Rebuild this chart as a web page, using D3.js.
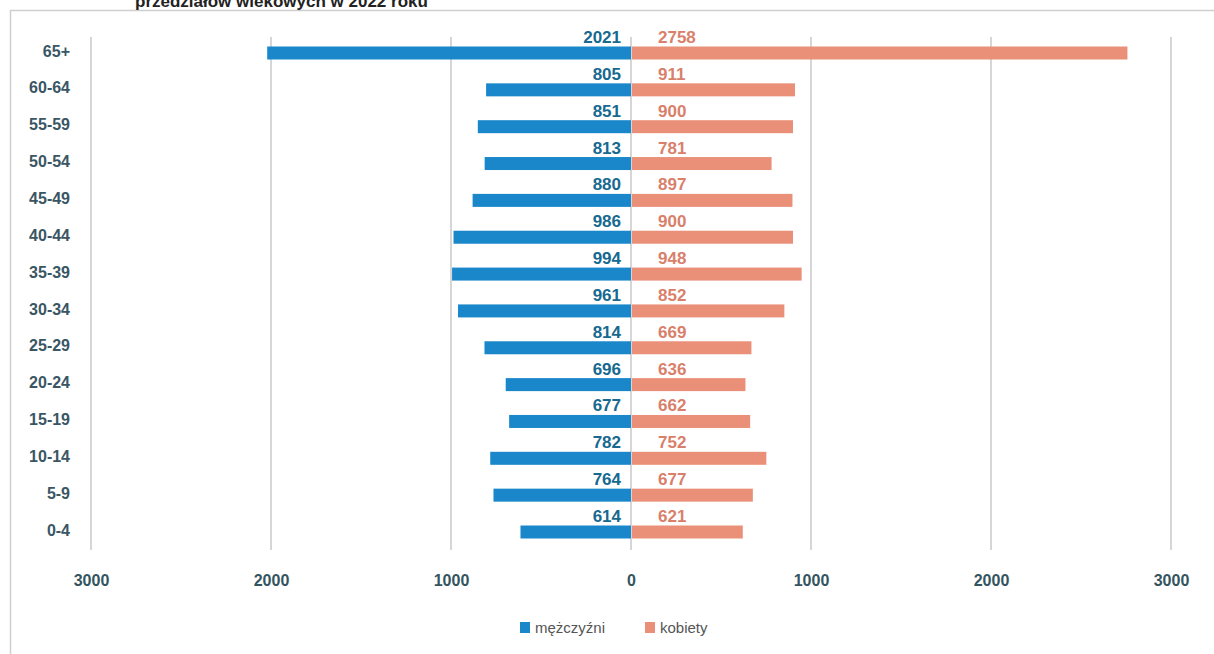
<!DOCTYPE html>
<html>
<head>
<meta charset="utf-8">
<script src="https://cdn.jsdelivr.net/npm/d3@7"></script>
<style>
  body { margin: 0; background: #fff; }
  svg { display: block; }
</style>
</head>
<body>
<svg id="chart" width="1214" height="654"></svg>
<script>
var width = 1214;
var height = 654;

// age groups, top to bottom
var ageGroups = ["65+", "60-64", "55-59", "50-54", "45-49", "40-44", "35-39", "30-34", "25-29", "20-24", "15-19", "10-14", "5-9", "0-4"];
var men = [2021, 805, 851, 813, 880, 986, 994, 961, 814, 696, 677, 782, 764, 614];
var women = [2758, 911, 900, 781, 897, 900, 948, 852, 669, 636, 662, 752, 677, 621];
var tickValues = [-3000, -2000, -1000, 0, 1000, 2000, 3000];
var seriesNames = ["mężczyźni", "kobiety"];

var blue = "#1987c9";
var salmon = "#ea9079";
var barH = 13;

var svg = d3.select("#chart");

// frame of the scanned figure
svg.append("rect")
    .attr("x", 10.5).attr("y", 10.5)
    .attr("width", 1230).attr("height", 700)
    .attr("fill", "none")
    .attr("stroke", "#cfcfcf")
    .attr("stroke-width", 1.5);

// title, mostly cut off at the top edge like in the scan
svg.append("text")
    .attr("x", 135).attr("y", 7)
    .attr("font-family", "Liberation Sans, Arial, sans-serif")
    .attr("font-weight", "bold")
    .attr("font-size", 17)
    .attr("fill", "#222")
    .text("przedziałów wiekowych w 2022 roku");

var x = d3.scaleLinear().domain([-3000, 3000]).range([91, 1171]);
// centre of each bar
var y = d3.scalePoint().domain(ageGroups).range([53, 532]);

// vertical grid lines
svg.append("g")
    .selectAll("line")
    .data(tickValues)
    .enter().append("line")
    .attr("x1", function(d) { return x(d); })
    .attr("x2", function(d) { return x(d); })
    .attr("y1", 37)
    .attr("y2", 550)
    .attr("stroke", "#c9c9c9")
    .attr("stroke-width", 1.5);

// x axis labels (absolute values)
var xAxis = d3.axisBottom(x)
    .tickValues(tickValues)
    .tickSize(0)
    .tickFormat(function(d) { return Math.abs(d); });

var gx = svg.append("g")
    .attr("transform", "translate(0,572)")
    .call(xAxis);
gx.select(".domain").remove();
gx.selectAll("text")
    .attr("font-family", "Liberation Sans, Arial, sans-serif")
    .attr("font-weight", "bold")
    .attr("font-size", 16)
    .attr("fill", "#34545f");

// category labels
var yAxis = d3.axisLeft(y).tickSize(0);
var gy = svg.append("g")
    .attr("transform", "translate(73,-2)")
    .call(yAxis);
gy.select(".domain").remove();
gy.selectAll("text")
    .attr("font-family", "Liberation Sans, Arial, sans-serif")
    .attr("font-weight", "bold")
    .attr("font-size", 16)
    .attr("fill", "#3a5664");

// bars
svg.append("g")
    .selectAll("rect")
    .data(men)
    .enter().append("rect")
    .attr("x", function(d) { return x(-d); })
    .attr("y", function(d, i) { return y(ageGroups[i]) - barH / 2; })
    .attr("width", function(d) { return x(0) - x(-d); })
    .attr("height", barH)
    .attr("fill", blue);

svg.append("g")
    .selectAll("rect")
    .data(women)
    .enter().append("rect")
    .attr("x", x(0) + 1)
    .attr("y", function(d, i) { return y(ageGroups[i]) - barH / 2; })
    .attr("width", function(d) { return x(d) - x(0) - 1; })
    .attr("height", barH)
    .attr("fill", salmon);

// value labels
svg.append("g")
    .selectAll("text")
    .data(men)
    .enter().append("text")
    .attr("x", x(0) - 10)
    .attr("y", function(d, i) { return y(ageGroups[i]) - 10; })
    .attr("text-anchor", "end")
    .attr("font-family", "Liberation Sans, Arial, sans-serif")
    .attr("font-weight", "bold")
    .attr("font-size", 17)
    .attr("fill", "#17698f")
    .text(function(d) { return d; });

svg.append("g")
    .selectAll("text")
    .data(women)
    .enter().append("text")
    .attr("x", x(0) + 27)
    .attr("y", function(d, i) { return y(ageGroups[i]) - 10; })
    .attr("font-family", "Liberation Sans, Arial, sans-serif")
    .attr("font-weight", "bold")
    .attr("font-size", 17)
    .attr("fill", "#d9806b")
    .text(function(d) { return d; });

// legend
var legend = svg.append("g").attr("transform", "translate(520,628)");
var legendX = [0, 125];
var legendColors = [blue, salmon];
seriesNames.forEach(function(name, i) {
    legend.append("rect")
        .attr("x", legendX[i]).attr("y", -6)
        .attr("width", 10).attr("height", 11)
        .attr("fill", legendColors[i]);
    legend.append("text")
        .attr("x", legendX[i] + 15).attr("y", 5)
        .attr("font-family", "Liberation Sans, Arial, sans-serif")
        .attr("font-size", 15)
        .attr("fill", "#555")
        .text(name);
});
</script>
</body>
</html>
